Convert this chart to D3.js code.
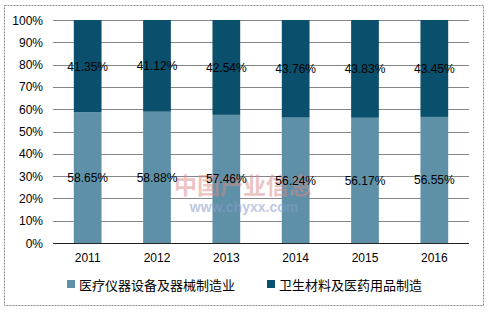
<!DOCTYPE html>
<html>
<head>
<meta charset="utf-8">
<script src="https://cdn.jsdelivr.net/npm/d3@7"></script>
<style>
body{margin:0;background:#fff;}
text{font-family:"Liberation Sans",Arial,sans-serif;}
.cn{font-family:"Noto Sans CJK SC","DejaVu Sans",sans-serif;}
</style>
</head>
<body>
<svg id="chart" width="493" height="313"></svg>
<script>
var years = ['2011','2012','2013','2014','2015','2016'];
var seriesNames = ['医疗仪器设备及器械制造业','卫生材料及医药用品制造'];
var lower = [58.65, 58.88, 57.46, 56.24, 56.17, 56.55];
var upper = [41.35, 41.12, 42.54, 43.76, 43.83, 43.45];
var yTicks = [0,10,20,30,40,50,60,70,80,90,100];
var colors = ['#5e91a7','#0a4f6b'];

var svg = d3.select('#chart');

//outer frame
svg.append('rect').attr('x',4.5).attr('y',5.5).attr('width',479).attr('height',300)
	.attr('fill','#fff').attr('stroke','#8c8c8c').attr('stroke-dasharray','2,1');

var plotLeft = 53, plotRight = 469, plotTop = 20, plotBottom = 243;

var x = d3.scaleBand().domain(years).range([plotLeft, plotRight]).paddingInner(0.6).paddingOuter(0.3);
var y = d3.scaleLinear().domain([0,100]).range([plotBottom, plotTop]);

//grid
svg.append('g').selectAll('line').data(yTicks.slice(1)).enter().append('line')
	.attr('x1',plotLeft).attr('x2',plotRight)
	.attr('y1',function(d){ return Math.round(y(d))+0.5; })
	.attr('y2',function(d){ return Math.round(y(d))+0.5; })
	.attr('stroke','#868686').attr('stroke-width',1);

//y labels
svg.append('g').selectAll('text').data(yTicks).enter().append('text')
	.attr('x',43).attr('y',function(d){ return y(d)+4.5; })
	.attr('text-anchor','end').attr('font-size',12).attr('fill','#000')
	.text(function(d){ return d+'%'; });

var table = years.map(function(yr,i){ return {year:yr, lo:lower[i], up:upper[i]}; });

//lower bars
svg.append('g').selectAll('rect').data(table).enter().append('rect')
	.attr('x',function(d){ return x(d.year); })
	.attr('y',function(d){ return y(d.lo); })
	.attr('width',x.bandwidth())
	.attr('height',function(d){ return y(0)-y(d.lo); })
	.attr('fill',colors[0]);

//upper bars
svg.append('g').selectAll('rect').data(table).enter().append('rect')
	.attr('x',function(d){ return x(d.year); })
	.attr('y',function(d){ return y(100); })
	.attr('width',x.bandwidth())
	.attr('height',function(d){ return y(d.lo)-y(100); })
	.attr('fill',colors[1]);

//watermark
svg.append('text').attr('class','cn').attr('x',243).attr('y',194).attr('text-anchor','middle')
	.attr('font-size',23).attr('font-weight','bold').attr('fill','#d98a8a').attr('opacity',0.5)
	.text('中国产业信息');
svg.append('text').attr('x',244).attr('y',212).attr('text-anchor','middle')
	.attr('font-size',14).attr('font-weight','bold').attr('fill','#8a9ccc').attr('opacity',0.55)
	.text('www.chyxx.com');

//value labels
var lab = svg.append('g').attr('font-size',12).attr('fill','#000').attr('text-anchor','middle');
lab.selectAll('text.lo').data(table).enter().append('text').attr('class','lo')
	.attr('x',function(d){ return x(d.year)+x.bandwidth()/2; })
	.attr('y',function(d){ return y(d.lo/2)+4.5; })
	.text(function(d){ return d.lo.toFixed(2)+'%'; });
lab.selectAll('text.up').data(table).enter().append('text').attr('class','up')
	.attr('x',function(d){ return x(d.year)+x.bandwidth()/2; })
	.attr('y',function(d){ return y(d.lo+d.up/2)+4.5; })
	.text(function(d){ return d.up.toFixed(2)+'%'; });

//x axis
svg.append('line').attr('x1',plotLeft).attr('x2',plotRight).attr('y1',plotBottom+0.5).attr('y2',plotBottom+0.5)
	.attr('stroke','#222').attr('stroke-width',1.2);
svg.append('g').selectAll('text').data(years).enter().append('text')
	.attr('x',function(d){ return x(d)+x.bandwidth()/2; })
	.attr('y',262).attr('text-anchor','middle').attr('font-size',12).attr('fill','#000')
	.text(function(d){ return d; });

//legend
var legX = [67, 267];
var leg = svg.append('g');
seriesNames.forEach(function(n,i){
	leg.append('rect').attr('x',legX[i]).attr('y',280).attr('width',8).attr('height',8).attr('fill',colors[i]);
	leg.append('text').attr('class','cn').attr('x',legX[i]+12).attr('y',289.5)
		.attr('font-size',13).attr('fill','#000').text(n);
});
</script>
</body>
</html>
